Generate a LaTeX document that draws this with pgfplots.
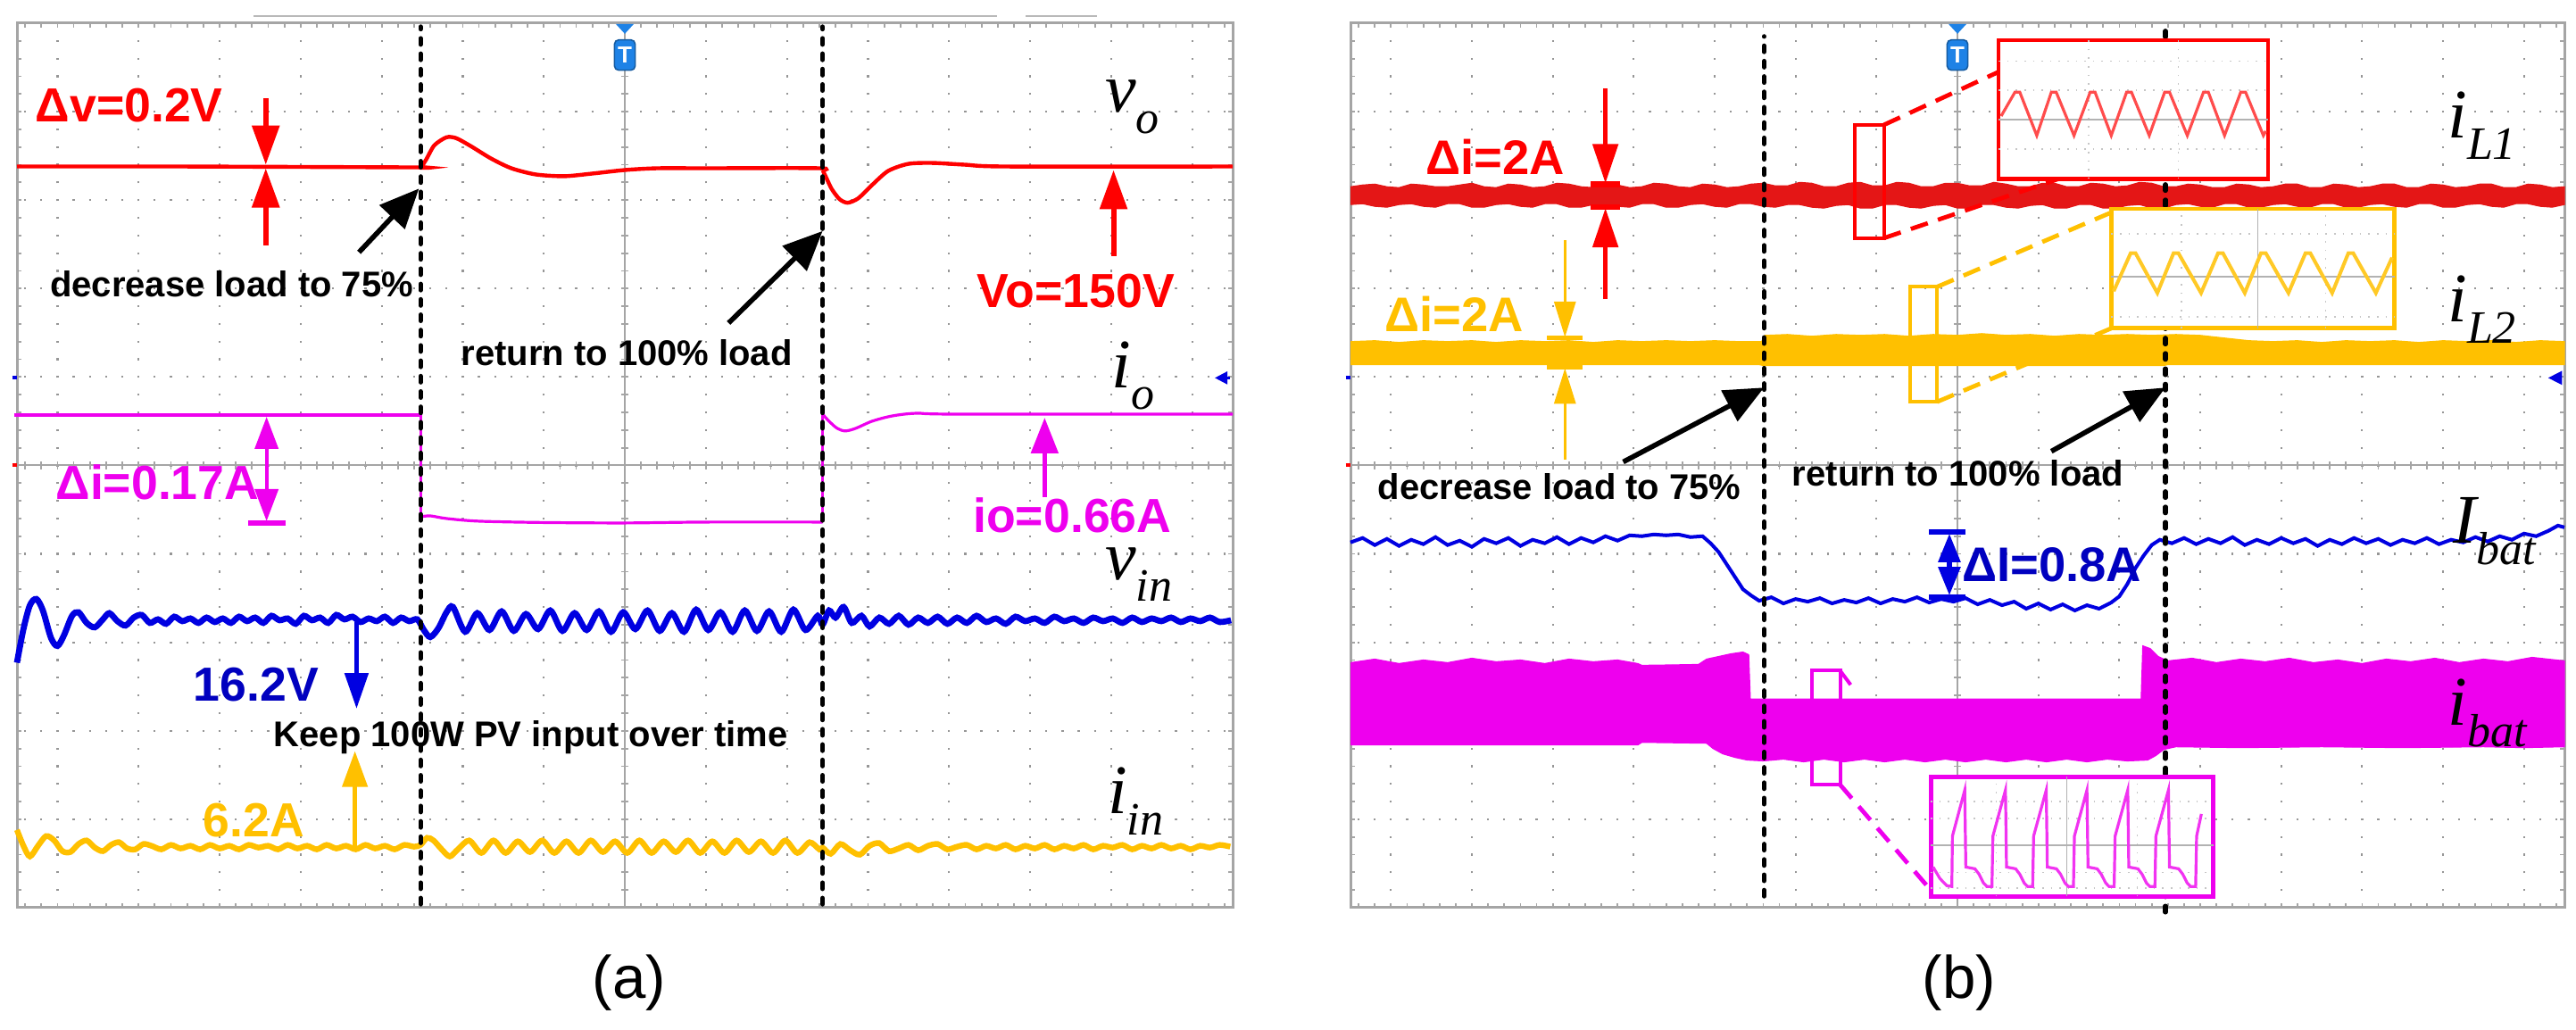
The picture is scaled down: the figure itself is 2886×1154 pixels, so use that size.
\documentclass[border=0pt]{standalone}
\usepackage{pgfplots}
\pgfplotsset{compat=1.18}
\usetikzlibrary{arrows.meta}
\usepackage{fontspec}
\setmainfont{Liberation Sans}
\newfontfamily\tnr{Liberation Serif}
\definecolor{gridc}{RGB}{150,150,150}
\definecolor{frc}{RGB}{165,165,165}
\definecolor{sred}{RGB}{255,0,0}
\definecolor{bred}{RGB}{228,22,22}
\definecolor{smag}{RGB}{238,0,238}
\definecolor{sblue}{RGB}{0,0,225}
\definecolor{sorg}{RGB}{255,192,0}
\definecolor{tblue}{RGB}{30,130,230}
\newcommand\ann[1]{\fontsize{13.4}{14}\selectfont\bfseries #1}
\newcommand\annb[1]{\fontsize{13.6}{14}\selectfont\bfseries #1}
\newcommand\blk[1]{\fontsize{10}{11}\selectfont\bfseries #1}
\newcommand\sig[2]{{\tnr\itshape\fontsize{19.5}{20}\selectfont #1}\raisebox{-6pt}{\tnr\itshape\fontsize{13}{13}\selectfont #2}}
\tikzset{
 bigarr/.style={-{Triangle[length=11pt,width=7.5pt]}},
 blackarr/.style={black, line width=1.4pt, -{Triangle[length=11pt,width=9.5pt]}},
 bdash/.style={black, line width=1.3pt, line cap=round, dash pattern=on 1.7pt off 2.6pt},
}
% oscilloscope graticule, X0 in px, width \gW in px (1px = 0.25pt)
\newcommand\scopegrid[1]{%
 \pgfmathsetmacro\dxx{\gW/15}%
 \pgfmathsetmacro\hp{0.05*\dxx}%
 \pgfmathsetlengthmacro\hoff{\hp pt-0.55pt}%
 \pgfmathsetlengthmacro\hph{\hp pt/2+0.275pt}%
 \pgfmathsetlengthmacro\htoff{\hp pt-0.45pt}%
 \pgfmathsetlengthmacro\htph{\hp pt/2+0.225pt}%
 \pgfmathsetmacro\xr{#1+\gW}%
 \foreach \k in {0,...,14}{%
   \pgfmathsetmacro\xx{#1+(\k+0.5)*\dxx}%
   \draw[gridc, line width=0.55pt, dash pattern=on 0.55pt off 4.405pt, dash phase=0.275pt] (\xx,137) -- (\xx,1128);
 }%
 \foreach \j in {1,...,9}{%
   \pgfmathsetmacro\yy{137+\j*99.1}%
   \draw[gridc, line width=0.55pt, dash pattern=on 0.55pt off \hoff, dash phase=\hph] (#1,\yy) -- (\xr,\yy);
 }%
 \pgfmathsetmacro\xc{#1+7.5*\dxx}%
 \draw[frc, line width=0.5pt] (\xc,137) -- (\xc,1128);
 \draw[frc, line width=0.5pt] (#1,632.5) -- (\xr,632.5);
 \draw[frc, line width=2.2pt, dash pattern=on 0.45pt off 4.505pt, dash phase=0.225pt] (\xc,137) -- (\xc,1128);
 \draw[frc, line width=2.2pt, dash pattern=on 0.45pt off \htoff, dash phase=\htph] (#1,632.5) -- (\xr,632.5);
 \draw[frc, line width=1.2pt, dash pattern=on 0.45pt off \htoff, dash phase=\htph] (#1,139.4) -- (\xr,139.4);
 \draw[frc, line width=1.2pt, dash pattern=on 0.45pt off \htoff, dash phase=\htph] (#1,1125.6) -- (\xr,1125.6);
 \pgfmathsetmacro\xla{#1+2.4}\pgfmathsetmacro\xlb{#1+\gW-2.4}%
 \draw[frc, line width=1.2pt, dash pattern=on 0.45pt off 4.505pt, dash phase=0.225pt] (\xla,137) -- (\xla,1128);
 \draw[frc, line width=1.2pt, dash pattern=on 0.45pt off 4.505pt, dash phase=0.225pt] (\xlb,137) -- (\xlb,1128);
 \draw[frc, line width=0.75pt] (#1,137) rectangle (\xr,1128);
}
\begin{document}
\begin{tikzpicture}[x=0.25pt,y=0.25pt]
\useasboundingbox (0,0) rectangle (2886,1154);
\def\gW{1362}\scopegrid{19}
\def\gW{1360}\scopegrid{1513}
\node[font=\fontsize{16.8}{17}\selectfont] at (705,53) {(a)};
\node[font=\fontsize{16.8}{17}\selectfont] at (2195,53) {(b)};

%%%%%%%%%%%%%%%%%%%%%%%%%%%%%% PANEL (a)
\begin{axis}[at={(4.75pt,34.25pt)}, anchor=south west, scale only axis,
  width=340.5pt, height=247.75pt, xmin=0, xmax=15, ymin=0, ymax=10,
  hide axis, clip=false]
% v_o
\addplot[sred, line width=1.1pt, smooth, tension=0.45] coordinates {
 (0,8.38) (2,8.38) (4.9,8.37) (4.98,8.37) (5.05,8.46) (5.15,8.62) (5.3,8.71) (5.42,8.70)
 (5.6,8.61) (5.85,8.47) (6.1,8.36) (6.4,8.29) (6.75,8.27) (7.1,8.30) (7.5,8.34) (7.9,8.36)
 (8.5,8.36) (9.9,8.36) (9.95,8.32) (10.05,8.13) (10.15,8.01) (10.25,7.97) (10.38,8.02)
 (10.55,8.17) (10.75,8.33) (11.0,8.41) (11.3,8.42) (11.7,8.40) (12.2,8.38) (15,8.38)};
% i_o
\addplot[smag, line width=0.8pt] coordinates {(-0.03,5.57) (4.98,5.57) (4.98,4.42)};
\addplot[smag, line width=0.8pt, smooth] coordinates {(4.98,4.42) (5.1,4.43) (5.3,4.40) (5.7,4.37) (6.5,4.355) (7.5,4.35) (8.5,4.36) (9.94,4.36)};
\addplot[smag, line width=0.8pt] coordinates {(9.94,4.36) (9.94,5.58)};
\addplot[smag, line width=0.8pt, smooth] coordinates {(9.94,5.58) (10.02,5.50) (10.12,5.42) (10.22,5.39) (10.35,5.42) (10.55,5.50) (10.8,5.56) (11.1,5.59) (11.6,5.58) (15,5.58)};
% v_in
\addplot[sblue, line width=1.7pt, smooth, tension=0.5] coordinates {
 (0,2.77) (0.08,3.15) (0.16,3.42) (0.24,3.49) (0.32,3.36) (0.42,3.05) (0.50,2.96) (0.58,3.08)
 (0.68,3.30) (0.76,3.34) (0.86,3.22) (0.96,3.17) (1.06,3.26) (1.14,3.33) (1.24,3.24) (1.34,3.19)
 (1.44,3.28) (1.54,3.31) (1.64,3.22) (1.74,3.26) (1.84,3.21) (1.94,3.29) (2.04,3.24) (2.14,3.27)
 (2.24,3.22) (2.34,3.28) (2.44,3.23) (2.54,3.27) (2.64,3.22) (2.74,3.29) (2.84,3.24) (2.94,3.28)
 (3.04,3.22) (3.14,3.30) (3.24,3.25) (3.34,3.27) (3.44,3.21) (3.54,3.30) (3.64,3.25) (3.74,3.28)
 (3.84,3.22) (3.94,3.31) (4.04,3.26) (4.14,3.29) (4.24,3.23) (4.34,3.27) (4.44,3.24) (4.54,3.29)
 (4.64,3.22) (4.74,3.28) (4.84,3.24) (4.94,3.26) (5.02,3.14) (5.10,3.06) (5.20,3.16) (5.30,3.34)
 (5.38,3.40) (5.53,3.12) (5.68,3.33) (5.83,3.14) (5.98,3.35) (6.13,3.13) (6.28,3.32) (6.43,3.15)
 (6.58,3.36) (6.73,3.13) (6.88,3.33) (7.03,3.14) (7.18,3.35) (7.33,3.12) (7.48,3.34) (7.63,3.15)
 (7.78,3.36) (7.93,3.13) (8.08,3.33) (8.23,3.12) (8.38,3.37) (8.53,3.14) (8.68,3.34) (8.83,3.12)
 (8.98,3.36) (9.13,3.13) (9.28,3.35) (9.43,3.12) (9.58,3.37) (9.73,3.14) (9.88,3.30) (9.94,3.20)
 (10.02,3.36) (10.10,3.28) (10.20,3.40) (10.30,3.22) (10.42,3.30) (10.52,3.18) (10.64,3.28)
 (10.76,3.21) (10.88,3.30) (11.0,3.20) (11.12,3.28) (11.24,3.22) (11.36,3.29) (11.48,3.21)
 (11.6,3.28) (11.72,3.22) (11.84,3.30) (11.96,3.23) (12.08,3.27) (12.2,3.21) (12.32,3.29)
 (12.44,3.24) (12.56,3.27) (12.68,3.22) (12.8,3.29) (12.92,3.24) (13.04,3.27) (13.16,3.22)
 (13.28,3.28) (13.4,3.24) (13.52,3.27) (13.64,3.22) (13.76,3.28) (13.88,3.23) (14.0,3.27)
 (14.12,3.24) (14.24,3.28) (14.36,3.23) (14.48,3.27) (14.6,3.24) (14.72,3.28) (14.84,3.23) (14.98,3.25)};
% i_in
\addplot[sorg, line width=1.6pt, smooth, tension=0.5] coordinates {
 (0,0.88) (0.08,0.70) (0.16,0.58) (0.26,0.70) (0.36,0.81) (0.46,0.76) (0.56,0.64) (0.66,0.63)
 (0.76,0.72) (0.86,0.76) (0.96,0.68) (1.06,0.64) (1.16,0.71) (1.26,0.74) (1.36,0.67) (1.46,0.66)
 (1.56,0.72) (1.66,0.70) (1.78,0.66) (1.90,0.71) (2.02,0.67) (2.14,0.70) (2.26,0.66) (2.38,0.71)
 (2.50,0.67) (2.62,0.70) (2.74,0.66) (2.86,0.71) (2.98,0.68) (3.10,0.70) (3.22,0.66) (3.34,0.71)
 (3.46,0.67) (3.58,0.70) (3.70,0.66) (3.82,0.71) (3.94,0.67) (4.06,0.70) (4.18,0.66) (4.30,0.71)
 (4.42,0.67) (4.54,0.70) (4.66,0.66) (4.78,0.71) (4.90,0.69) (4.98,0.71) (5.06,0.79) (5.14,0.76)
 (5.24,0.66) (5.34,0.58) (5.44,0.66) (5.58,0.76) (5.73,0.62) (5.88,0.76) (6.03,0.62) (6.18,0.75)
 (6.33,0.63) (6.48,0.76) (6.63,0.62) (6.78,0.75) (6.93,0.62) (7.08,0.76) (7.23,0.63) (7.38,0.75)
 (7.53,0.62) (7.68,0.76) (7.83,0.62) (7.98,0.75) (8.13,0.63) (8.28,0.76) (8.43,0.62) (8.58,0.75)
 (8.73,0.62) (8.88,0.76) (9.03,0.63) (9.18,0.75) (9.33,0.62) (9.48,0.76) (9.63,0.62) (9.78,0.74)
 (9.90,0.66) (9.94,0.68) (10.04,0.61) (10.16,0.72) (10.28,0.65) (10.40,0.60) (10.52,0.70)
 (10.64,0.73) (10.76,0.64) (10.88,0.67) (11.0,0.71) (11.12,0.65) (11.24,0.70) (11.36,0.72)
 (11.48,0.66) (11.60,0.69) (11.72,0.71) (11.84,0.66) (11.96,0.70) (12.08,0.67) (12.20,0.71)
 (12.32,0.66) (12.44,0.70) (12.56,0.67) (12.68,0.71) (12.80,0.66) (12.92,0.70) (13.04,0.67)
 (13.16,0.71) (13.28,0.66) (13.40,0.70) (13.52,0.68) (13.64,0.71) (13.76,0.66) (13.88,0.70)
 (14.00,0.67) (14.12,0.71) (14.24,0.67) (14.36,0.70) (14.48,0.66) (14.60,0.70) (14.72,0.68)
 (14.84,0.71) (14.97,0.69)};
% event lines
\draw[bdash] (4.98,0.04) -- (4.98,9.96);
\draw[bdash] (9.94,0.04) -- (9.94,9.96);
% trigger mark and markers
\fill[tblue] (7.39,9.99) -- (7.61,9.99) -- (7.5,9.88) -- cycle;
\node[fill=tblue, draw=tblue!70!black, rounded corners=1.2pt, inner sep=0pt, minimum width=5.8pt, minimum height=8.5pt, text=white, font=\bfseries\fontsize{6.5}{6.5}\selectfont] at (7.5,9.64) {T};
\draw[sblue, line width=0.6pt, -{Triangle[length=3.5pt,width=3.5pt]}] (14.97,5.99) -- (14.78,5.99);
\draw[sblue, line width=1pt] (-0.06,5.99) -- (0,5.99);
\draw[sred, line width=1pt] (-0.06,5.0) -- (0,5.0);
\draw[gray!55, line width=0.5pt] (2.92,10.08) -- (12.09,10.08);
\draw[gray!55, line width=0.5pt] (12.45,10.08) -- (13.33,10.08);
% annotation arrows
\draw[sred, line width=1.5pt, bigarr] (3.07,9.15) -- (3.07,8.40);
\draw[sred, line width=1.5pt, bigarr] (3.07,7.49) -- (3.07,8.36);
\draw[sred, line width=1.5pt, bigarr] (13.53,7.37) -- (13.53,8.34);
\draw[smag, line width=1pt, {Triangle[length=9pt,width=6.5pt]}-{Triangle[length=9pt,width=6.5pt]}] (3.08,4.37) -- (3.08,5.55);
\draw[smag, line width=1.5pt] (2.85,4.35) -- (3.32,4.35);
\draw[smag, line width=1.3pt, -{Triangle[length=10pt,width=7.5pt]}] (12.68,4.64) -- (12.68,5.54);
\draw[sblue, line width=1.3pt, -{Triangle[length=10pt,width=6.5pt]}] (4.19,3.23) -- (4.19,2.25);
\draw[sorg, line width=1.1pt, -{Triangle[length=10pt,width=7pt]}] (4.17,0.69) -- (4.17,1.77);
\draw[blackarr] (4.22,7.41) -- (4.96,8.13);
\draw[blackarr] (8.78,6.61) -- (9.94,7.65);
% texts
\node[anchor=base west, inner sep=0, text=sred] at (0.22,8.88) {\ann{Δv=0.2V}};
\node[anchor=base west, inner sep=0, text=sred] at (11.84,6.79) {\ann{Vo=150V}};
\node[anchor=base west, inner sep=0, text=smag] at (0.47,4.62) {\ann{Δi=0.17A}};
\node[anchor=base west, inner sep=0, text=smag] at (11.79,4.24) {\ann{io=0.66A}};
\node[anchor=base west, inner sep=0, text=sblue!85!black] at (2.17,2.34) {\ann{16.2V}};
\node[anchor=base west, inner sep=0, text=sorg] at (2.29,0.80) {\ann{6.2A}};
\node[anchor=base west, inner sep=0] at (0.40,6.91) {\blk{decrease load to 75\%}};
\node[anchor=base west, inner sep=0] at (5.47,6.13) {\blk{return to 100\% load}};
\node[anchor=base west, inner sep=0] at (3.16,1.82) {\blk{Keep 100W PV input over time}};
\node[anchor=base west, inner sep=0] at (13.42,9.0) {\sig{v}{o}};
\node[anchor=base west, inner sep=0] at (13.50,5.88) {\sig{i}{o}};
\node[anchor=base west, inner sep=0] at (13.42,3.71) {\sig{v}{in}};
\node[anchor=base west, inner sep=0] at (13.45,1.06) {\sig{i}{in}};
\end{axis}

%%%%%%%%%%%%%%%%%%%%%%%%%%%%%% PANEL (b)
\begin{axis}[at={(378.25pt,34.25pt)}, anchor=south west, scale only axis,
  width=340pt, height=247.75pt, xmin=0, xmax=15, ymin=0, ymax=10,
  hide axis, clip=false]
% i_L1 band
\addplot[fill=bred, draw=bred, line width=0.3pt] coordinates {
 (0,8.15) (0.15,8.17) (0.3,8.18) (0.45,8.15) (0.6,8.14) (0.75,8.18) (0.9,8.17) (1.05,8.15) (1.2,8.15)
 (1.35,8.17) (1.5,8.19) (1.65,8.15) (1.8,8.14) (1.95,8.18) (2.1,8.17) (2.25,8.14) (2.4,8.15) (2.55,8.19)
 (2.7,8.18) (2.85,8.15) (3.0,8.14) (3.15,8.18) (3.3,8.17) (3.45,8.14) (3.6,8.15) (3.75,8.19) (3.9,8.18)
 (4.05,8.15) (4.2,8.14) (4.35,8.18) (4.5,8.17) (4.65,8.14) (4.8,8.15) (4.95,8.18) (5.1,8.19) (5.25,8.16)
 (5.4,8.16) (5.55,8.20) (5.7,8.19) (5.85,8.15) (6.0,8.15) (6.15,8.19) (6.3,8.20) (6.45,8.16) (6.6,8.16)
 (6.75,8.20) (6.9,8.19) (7.05,8.15) (7.2,8.15) (7.35,8.19) (7.5,8.19) (7.65,8.16) (7.8,8.16) (7.95,8.20)
 (8.1,8.18) (8.25,8.15) (8.4,8.15) (8.55,8.19) (8.7,8.19) (8.85,8.15) (9.0,8.15) (9.15,8.19) (9.3,8.18)
 (9.45,8.15) (9.6,8.16) (9.75,8.20) (9.9,8.19) (10.05,8.15) (10.2,8.15) (10.35,8.18) (10.5,8.17)
 (10.65,8.14) (10.8,8.14) (10.95,8.18) (11.1,8.17) (11.25,8.14) (11.4,8.15) (11.55,8.18) (11.7,8.18)
 (11.85,8.14) (12.0,8.14) (12.15,8.18) (12.3,8.17) (12.45,8.14) (12.6,8.15) (12.75,8.18) (12.9,8.18)
 (13.05,8.14) (13.2,8.14) (13.35,8.18) (13.5,8.17) (13.65,8.14) (13.8,8.15) (13.95,8.18) (14.1,8.18)
 (14.25,8.14) (14.4,8.14) (14.55,8.18) (14.7,8.17) (14.85,8.14) (15,8.15)
 (15,7.95) (14.85,7.92) (14.7,7.93) (14.55,7.96) (14.4,7.96) (14.25,7.92) (14.1,7.93) (13.95,7.96)
 (13.8,7.95) (13.65,7.92) (13.5,7.92) (13.35,7.96) (13.2,7.96) (13.05,7.92) (12.9,7.93) (12.75,7.96)
 (12.6,7.95) (12.45,7.92) (12.3,7.92) (12.15,7.96) (12.0,7.96) (11.85,7.92) (11.7,7.93) (11.55,7.96)
 (11.4,7.95) (11.25,7.92) (11.1,7.92) (10.95,7.96) (10.8,7.96) (10.65,7.92) (10.5,7.93) (10.35,7.96)
 (10.2,7.95) (10.05,7.91) (9.9,7.91) (9.75,7.95) (9.6,7.94) (9.45,7.91) (9.3,7.91) (9.15,7.95)
 (9.0,7.95) (8.85,7.91) (8.7,7.91) (8.55,7.95) (8.4,7.94) (8.25,7.91) (8.1,7.92) (7.95,7.95)
 (7.8,7.95) (7.65,7.91) (7.5,7.91) (7.35,7.95) (7.2,7.94) (7.05,7.91) (6.9,7.92) (6.75,7.95)
 (6.6,7.95) (6.45,7.91) (6.3,7.91) (6.15,7.95) (6.0,7.94) (5.85,7.91) (5.7,7.92) (5.55,7.95)
 (5.4,7.95) (5.25,7.92) (5.1,7.93) (4.95,7.96) (4.8,7.96) (4.65,7.92) (4.5,7.93) (4.35,7.96)
 (4.2,7.95) (4.05,7.92) (3.9,7.92) (3.75,7.96) (3.6,7.96) (3.45,7.92) (3.3,7.93) (3.15,7.96)
 (3.0,7.95) (2.85,7.92) (2.7,7.92) (2.55,7.96) (2.4,7.96) (2.25,7.92) (2.1,7.93) (1.95,7.96)
 (1.8,7.95) (1.65,7.92) (1.5,7.92) (1.35,7.96) (1.2,7.96) (1.05,7.92) (0.9,7.93) (0.75,7.96)
 (0.6,7.95) (0.45,7.92) (0.3,7.93) (0.15,7.96) (0,7.95)};
% i_L2 band
\addplot[fill=sorg, draw=sorg, line width=0.3pt] coordinates {
 (0,6.40) (0.3,6.41) (0.6,6.39) (0.9,6.41) (1.2,6.40) (1.5,6.41) (1.8,6.39) (2.1,6.41) (2.4,6.40)
 (2.7,6.41) (3.0,6.39) (3.3,6.41) (3.6,6.40) (3.9,6.41) (4.2,6.40) (4.5,6.41) (4.8,6.40) (5.08,6.40)
 (5.12,6.47) (5.4,6.48) (5.7,6.46) (6.0,6.48) (6.3,6.47) (6.6,6.48) (6.9,6.46) (7.2,6.48) (7.5,6.47)
 (7.8,6.49) (8.1,6.47) (8.4,6.48) (8.7,6.46) (9.0,6.48) (9.3,6.47) (9.6,6.48) (9.9,6.47) (10.2,6.48)
 (10.5,6.47) (10.8,6.44) (11.1,6.41) (11.4,6.40) (11.7,6.41) (12.0,6.39) (12.3,6.41) (12.6,6.40)
 (12.9,6.41) (13.2,6.39) (13.5,6.41) (13.8,6.40) (14.1,6.41) (14.4,6.39) (14.7,6.41) (15,6.40)
 (15,6.14) (10.1,6.14) (10.05,6.13) (5.1,6.13) (5.05,6.14) (0,6.14)};
% i_bat band
\addplot[fill=smag, draw=smag, line width=0.3pt] coordinates {
 (0,2.77) (0.3,2.81) (0.6,2.76) (0.9,2.80) (1.2,2.77) (1.5,2.82) (1.8,2.78) (2.1,2.80) (2.4,2.76)
 (2.7,2.81) (3.0,2.78) (3.3,2.80) (3.55,2.76) (3.6,2.74) (4.0,2.745) (4.3,2.75) (4.4,2.81) (4.55,2.84)
 (4.7,2.87) (4.85,2.89) (4.92,2.86) (4.94,2.36) (9.77,2.36) (9.79,2.96) (9.88,2.93) (9.98,2.84)
 (10.1,2.79) (10.4,2.82) (10.7,2.77) (11.0,2.81) (11.3,2.78) (11.6,2.82) (11.9,2.77) (12.2,2.80)
 (12.5,2.76) (12.8,2.81) (13.1,2.78) (13.4,2.82) (13.7,2.77) (14.0,2.81) (14.3,2.78) (14.6,2.83) (15,2.79)
 (15,1.82) (14.5,1.81) (14.0,1.82) (13.0,1.81) (12.0,1.82) (11.0,1.81) (10.2,1.82) (10.05,1.79)
 (9.95,1.72) (9.85,1.67) (9.6,1.66) (9.35,1.68) (9.1,1.65) (8.85,1.68) (8.6,1.65) (8.35,1.68)
 (8.1,1.65) (7.85,1.68) (7.6,1.65) (7.35,1.68) (7.1,1.65) (6.85,1.68) (6.6,1.65) (6.35,1.68)
 (6.1,1.65) (5.85,1.68) (5.6,1.65) (5.35,1.68) (5.1,1.66) (4.9,1.67) (4.75,1.70) (4.6,1.74)
 (4.48,1.80) (4.4,1.86) (3.6,1.87) (3.55,1.84) (0,1.84)};
% I_bat
\addplot[sblue, line width=1pt] coordinates {
 (0,4.13) (0.15,4.18) (0.3,4.10) (0.45,4.17) (0.6,4.09) (0.75,4.16) (0.9,4.11) (1.05,4.19) (1.2,4.10)
 (1.35,4.15) (1.5,4.08) (1.65,4.17) (1.8,4.12) (1.95,4.18) (2.1,4.09) (2.25,4.16) (2.4,4.12) (2.55,4.19)
 (2.7,4.11) (2.85,4.18) (3.0,4.13) (3.15,4.20) (3.3,4.15) (3.45,4.21) (3.6,4.20) (3.75,4.22) (3.9,4.21)
 (4.05,4.22) (4.2,4.19) (4.35,4.20) (4.45,4.12) (4.55,4.02) (4.65,3.88) (4.75,3.74) (4.85,3.60)
 (4.95,3.53) (5.05,3.47) (5.2,3.51) (5.35,3.44) (5.5,3.49) (5.65,3.46) (5.8,3.50) (5.95,3.44) (6.1,3.48)
 (6.25,3.45) (6.4,3.50) (6.55,3.44) (6.7,3.49) (6.85,3.46) (7.0,3.51) (7.15,3.45) (7.3,3.49) (7.45,3.46)
 (7.6,3.50) (7.75,3.43) (7.9,3.48) (8.05,3.42) (8.2,3.46) (8.35,3.38) (8.5,3.44) (8.65,3.37) (8.8,3.43)
 (8.95,3.36) (9.1,3.42) (9.25,3.38) (9.4,3.45) (9.5,3.52) (9.6,3.66) (9.7,3.84) (9.8,3.98) (9.9,4.10)
 (10.0,4.16) (10.15,4.12) (10.3,4.18) (10.45,4.11) (10.6,4.17) (10.75,4.12) (10.9,4.19) (11.05,4.10)
 (11.2,4.16) (11.35,4.11) (11.5,4.18) (11.65,4.12) (11.8,4.17) (11.95,4.09) (12.1,4.16) (12.25,4.11)
 (12.4,4.18) (12.55,4.12) (12.7,4.17) (12.85,4.10) (13.0,4.16) (13.15,4.12) (13.3,4.18) (13.45,4.11)
 (13.6,4.16) (13.75,4.13) (13.9,4.19) (14.05,4.14) (14.2,4.20) (14.35,4.16) (14.5,4.23) (14.65,4.20)
 (14.8,4.26) (14.92,4.32) (15,4.30)};
% zoom connectors and small boxes
\draw[sred, line width=1.2pt, dash pattern=on 5pt off 3pt] (6.59,8.85) -- (8.01,9.45);
\draw[sred, line width=1.2pt, dash pattern=on 5pt off 3pt] (6.59,7.57) -- (8.75,8.24);
\draw[sred, line width=1pt] (6.23,7.57) rectangle (6.59,8.85);
\draw[sorg, line width=1.2pt, dash pattern=on 5pt off 3pt] (7.25,7.02) -- (9.40,7.86);
\draw[sorg, line width=1.2pt, dash pattern=on 5pt off 3pt] (7.25,5.72) -- (9.40,6.55);
\draw[sorg, line width=1pt] (6.91,5.72) rectangle (7.25,7.02);
\draw[smag, line width=1.2pt, dash pattern=on 5pt off 3pt] (6.05,1.39) -- (7.15,0.22);
\draw[smag, line width=1pt] (6.05,2.68) -- (6.18,2.52);
\draw[smag, line width=1pt] (5.70,1.39) rectangle (6.05,2.68);
% event lines
\draw[bdash] (5.11,0.13) -- (5.11,9.85);
\draw[bdash] (10.07,-0.05) -- (10.07,10.0);
% red inset
\draw[sred, line width=1.1pt, fill=white] (8.01,8.24) rectangle (11.34,9.81);
\draw[gray!45, line width=0.4pt, dotted] (8.01,9.57) -- (11.34,9.57);
\draw[gray!45, line width=0.4pt, dotted] (8.01,9.24) -- (11.34,9.24);
\draw[gray!45, line width=0.4pt, dotted] (8.01,8.58) -- (11.34,8.58);
\draw[gray!45, line width=0.4pt, dotted] (9.12,8.24) -- (9.12,9.81);
\draw[gray!45, line width=0.4pt, dotted] (10.23,8.24) -- (10.23,9.81);
\draw[gray!60, line width=0.45pt] (8.01,8.91) -- (11.34,8.91);
\addplot[sred!70, line width=0.8pt] coordinates {
 (8.04,8.95) (8.21,9.22) (8.27,9.22) (8.48,8.73) (8.66,9.22) (8.72,9.22) (8.94,8.73) (9.14,9.22)
 (9.20,9.22) (9.40,8.73) (9.59,9.22) (9.65,9.22) (9.87,8.73) (10.06,9.22) (10.12,9.22) (10.34,8.73)
 (10.54,9.22) (10.60,9.22) (10.80,8.73) (11.00,9.22) (11.06,9.22) (11.28,8.73) (11.31,8.78)};
% orange inset
\draw[sorg, line width=1.2pt, fill=white] (9.40,6.55) rectangle (12.90,7.90);
\draw[gray!45, line width=0.4pt, dotted] (9.40,7.62) -- (12.90,7.62);
\draw[gray!45, line width=0.4pt, dotted] (9.40,6.68) -- (12.90,6.68);
\draw[gray!45, line width=0.4pt, dotted] (10.27,6.55) -- (10.27,7.90);
\draw[gray!45, line width=0.4pt, dotted] (12.05,6.55) -- (12.05,7.90);
\draw[gray!60, line width=0.45pt] (9.40,7.13) -- (12.90,7.13);
\draw[gray!60, line width=0.45pt] (11.21,6.55) -- (11.21,7.90);
\addplot[sorg!85!white, line width=1pt] coordinates {
 (9.43,6.97) (9.64,7.40) (9.70,7.40) (9.97,6.95) (10.17,7.40) (10.23,7.40) (10.51,6.95) (10.72,7.40)
 (10.78,7.40) (11.05,6.95) (11.25,7.40) (11.31,7.40) (11.59,6.95) (11.80,7.40) (11.86,7.40) (12.13,6.95)
 (12.33,7.40) (12.39,7.40) (12.67,6.95) (12.87,7.35)};
% magenta inset
\draw[smag, line width=1.2pt, fill=white] (7.17,0.13) rectangle (10.66,1.48);
\draw[gray!45, line width=0.4pt, dotted] (7.17,1.20) -- (10.66,1.20);
\draw[gray!45, line width=0.4pt, dotted] (7.17,1.01) -- (10.66,1.01);
\draw[gray!45, line width=0.4pt, dotted] (7.17,0.40) -- (10.66,0.40);
\draw[gray!45, line width=0.4pt, dotted] (7.17,0.22) -- (10.66,0.22);
\draw[gray!45, line width=0.4pt, dotted] (7.98,0.13) -- (7.98,1.48);
\draw[gray!45, line width=0.4pt, dotted] (9.72,0.13) -- (9.72,1.48);
\draw[gray!60, line width=0.45pt] (7.17,0.71) -- (10.66,0.71);
\draw[gray!60, line width=0.45pt] (8.85,0.13) -- (8.85,1.48);
\addplot[smag!80!white, line width=0.8pt] coordinates {
 (7.199,0.46) (7.283,0.33) (7.367,0.25) (7.430,0.24) (7.438,0.81) (7.590,1.33)
 (7.603,0.46) (7.716,0.44) (7.766,0.38) (7.821,0.28) (7.863,0.24) (7.926,0.24) (7.938,0.81) (8.093,1.33)
 (8.106,0.46) (8.219,0.44) (8.269,0.38) (8.324,0.28) (8.366,0.24) (8.429,0.24) (8.441,0.81) (8.597,1.33)
 (8.610,0.46) (8.723,0.44) (8.773,0.38) (8.828,0.28) (8.870,0.24) (8.933,0.24) (8.945,0.81) (9.100,1.33)
 (9.113,0.46) (9.226,0.44) (9.276,0.38) (9.331,0.28) (9.373,0.24) (9.436,0.24) (9.448,0.81) (9.604,1.33)
 (9.617,0.46) (9.730,0.44) (9.780,0.38) (9.835,0.28) (9.877,0.24) (9.940,0.24) (9.952,0.81) (10.107,1.33)
 (10.120,0.46) (10.233,0.44) (10.283,0.38) (10.338,0.28) (10.380,0.24) (10.443,0.24) (10.455,0.81) (10.514,1.06)};
% trigger and markers
\fill[tblue] (7.39,9.99) -- (7.61,9.99) -- (7.5,9.88) -- cycle;
\node[fill=tblue, draw=tblue!70!black, rounded corners=1.2pt, inner sep=0pt, minimum width=5.8pt, minimum height=8.5pt, text=white, font=\bfseries\fontsize{6.5}{6.5}\selectfont] at (7.5,9.64) {T};
\fill[sblue] (14.80,5.99) -- (14.97,6.07) -- (14.97,5.91) -- cycle;
\draw[sblue, line width=1pt] (-0.06,5.99) -- (0,5.99);
\draw[sred, line width=1pt] (-0.06,5.0) -- (0,5.0);
% annotation arrows
\draw[sred, line width=1.3pt, -{Triangle[length=11pt,width=7pt]}] (3.15,9.26) -- (3.15,8.19);
\draw[sred, line width=1.3pt, -{Triangle[length=11pt,width=7pt]}] (3.15,6.88) -- (3.15,7.91);
\draw[sred, line width=1.6pt] (2.97,8.18) -- (3.33,8.18);
\draw[sred, line width=1.6pt] (2.97,7.92) -- (3.33,7.92);
\draw[sorg, line width=0.8pt, -{Triangle[length=10pt,width=6pt]}] (2.65,7.55) -- (2.65,6.45);
\draw[sorg, line width=0.8pt, -{Triangle[length=10pt,width=6pt]}] (2.65,5.07) -- (2.65,6.10);
\draw[sorg, line width=1.2pt] (2.43,6.44) -- (2.87,6.44);
\draw[sorg, line width=1.2pt] (2.43,6.11) -- (2.87,6.11);
\draw[sblue, line width=1.4pt, {Triangle[length=8pt,width=6pt]}-{Triangle[length=8pt,width=6pt]}] (7.40,3.53) -- (7.40,4.23);
\draw[sblue, line width=1.5pt] (7.15,4.25) -- (7.60,4.25);
\draw[sblue, line width=1.5pt] (7.15,3.51) -- (7.60,3.51);
\draw[blackarr] (3.37,5.04) -- (5.11,5.88);
\draw[blackarr] (8.66,5.16) -- (10.07,5.88);
% texts
\node[anchor=base west, inner sep=0, text=sred] at (0.92,8.29) {\annb{Δi=2A}};
\node[anchor=base west, inner sep=0, text=sorg] at (0.41,6.51) {\annb{Δi=2A}};
\node[anchor=base west, inner sep=0, text=sblue!85!black] at (7.55,3.69) {\annb{ΔI=0.8A}};
\node[anchor=base west, inner sep=0] at (0.33,4.62) {\blk{decrease load to 75\%}};
\node[anchor=base west, inner sep=0] at (5.45,4.77) {\blk{return to 100\% load}};
\node[anchor=base west, inner sep=0] at (13.55,8.70) {\sig{i}{L1}};
\node[anchor=base west, inner sep=0] at (13.55,6.62) {\sig{i}{L2}};
\node[anchor=base west, inner sep=0] at (13.62,4.12) {\sig{I}{bat}};
\node[anchor=base west, inner sep=0] at (13.55,2.06) {\sig{i}{bat}};
\end{axis}
\end{tikzpicture}
\end{document}
